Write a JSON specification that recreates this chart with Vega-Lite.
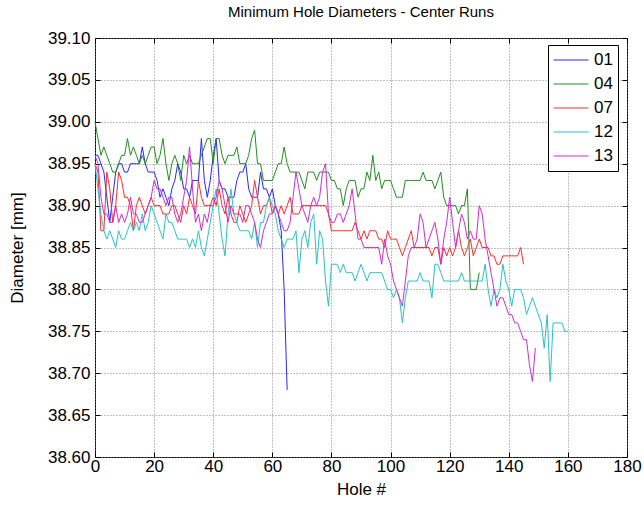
{
  "$schema": "https://vega.github.io/schema/vega-lite/v6.json",
  "width": 532,
  "height": 419,
  "autosize": {"type": "none"},
  "padding": {"left": 95, "top": 38, "right": 17, "bottom": 48},
  "background": "white",
  "title": {"text": "Minimum Hole Diameters - Center Runs", "fontSize": 15, "font": "Liberation Sans", "fontWeight": "normal", "color": "black", "offset": 9, "anchor": "middle"},
  "config": {"view": {"stroke": "black", "strokeWidth": 1}, "font": "Liberation Sans"},
  "datasets": {
    "runs": [
      {"run":"01","hole":0,"dia":38.96},{"run":"01","hole":1,"dia":38.96},{"run":"01","hole":2,"dia":38.95},{"run":"01","hole":3,"dia":38.94},{"run":"01","hole":4,"dia":38.91},{"run":"01","hole":5,"dia":38.88},{"run":"01","hole":6,"dia":38.91},{"run":"01","hole":7,"dia":38.94},{"run":"01","hole":8,"dia":38.95},{"run":"01","hole":9,"dia":38.95},
      {"run":"01","hole":10,"dia":38.94},{"run":"01","hole":11,"dia":38.94},{"run":"01","hole":12,"dia":38.95},{"run":"01","hole":13,"dia":38.95},{"run":"01","hole":14,"dia":38.95},{"run":"01","hole":15,"dia":38.95},{"run":"01","hole":16,"dia":38.97},{"run":"01","hole":17,"dia":38.95},{"run":"01","hole":18,"dia":38.94},{"run":"01","hole":19,"dia":38.94},
      {"run":"01","hole":20,"dia":38.94},{"run":"01","hole":21,"dia":38.93},{"run":"01","hole":22,"dia":38.91},{"run":"01","hole":23,"dia":38.92},{"run":"01","hole":24,"dia":38.91},{"run":"01","hole":25,"dia":38.90},{"run":"01","hole":26,"dia":38.92},{"run":"01","hole":27,"dia":38.93},{"run":"01","hole":28,"dia":38.95},{"run":"01","hole":29,"dia":38.94},
      {"run":"01","hole":30,"dia":38.92},{"run":"01","hole":31,"dia":38.92},{"run":"01","hole":32,"dia":38.91},{"run":"01","hole":33,"dia":38.93},{"run":"01","hole":34,"dia":38.93},{"run":"01","hole":35,"dia":38.93},{"run":"01","hole":36,"dia":38.98},{"run":"01","hole":37,"dia":38.93},{"run":"01","hole":38,"dia":38.91},{"run":"01","hole":39,"dia":38.93},
      {"run":"01","hole":40,"dia":38.96},{"run":"01","hole":41,"dia":38.98},{"run":"01","hole":42,"dia":38.93},{"run":"01","hole":43,"dia":38.92},{"run":"01","hole":44,"dia":38.92},{"run":"01","hole":45,"dia":38.91},{"run":"01","hole":46,"dia":38.91},{"run":"01","hole":47,"dia":38.91},{"run":"01","hole":48,"dia":38.93},{"run":"01","hole":49,"dia":38.94},
      {"run":"01","hole":50,"dia":38.94},{"run":"01","hole":51,"dia":38.95},{"run":"01","hole":52,"dia":38.92},{"run":"01","hole":53,"dia":38.91},{"run":"01","hole":54,"dia":38.91},{"run":"01","hole":55,"dia":38.91},{"run":"01","hole":56,"dia":38.94},{"run":"01","hole":57,"dia":38.92},{"run":"01","hole":58,"dia":38.92},{"run":"01","hole":59,"dia":38.91},
      {"run":"01","hole":60,"dia":38.92},{"run":"01","hole":61,"dia":38.90},{"run":"01","hole":62,"dia":38.89},{"run":"01","hole":63,"dia":38.87},{"run":"01","hole":64,"dia":38.80},{"run":"01","hole":65,"dia":38.68},

      {"run":"04","hole":0,"dia":39.00},{"run":"04","hole":1,"dia":38.98},{"run":"04","hole":2,"dia":38.96},{"run":"04","hole":3,"dia":38.97},{"run":"04","hole":4,"dia":38.96},{"run":"04","hole":5,"dia":38.95},{"run":"04","hole":6,"dia":38.94},{"run":"04","hole":7,"dia":38.94},{"run":"04","hole":8,"dia":38.95},{"run":"04","hole":9,"dia":38.96},
      {"run":"04","hole":10,"dia":38.96},{"run":"04","hole":11,"dia":38.98},{"run":"04","hole":12,"dia":38.96},{"run":"04","hole":13,"dia":38.97},{"run":"04","hole":14,"dia":38.96},{"run":"04","hole":15,"dia":38.95},{"run":"04","hole":16,"dia":38.96},{"run":"04","hole":17,"dia":38.95},{"run":"04","hole":18,"dia":38.96},{"run":"04","hole":19,"dia":38.97},
      {"run":"04","hole":20,"dia":38.97},{"run":"04","hole":21,"dia":38.95},{"run":"04","hole":22,"dia":38.96},{"run":"04","hole":23,"dia":38.98},{"run":"04","hole":24,"dia":38.95},{"run":"04","hole":25,"dia":38.93},{"run":"04","hole":26,"dia":38.95},{"run":"04","hole":27,"dia":38.96},{"run":"04","hole":28,"dia":38.95},{"run":"04","hole":29,"dia":38.93},
      {"run":"04","hole":30,"dia":38.96},{"run":"04","hole":31,"dia":38.95},{"run":"04","hole":32,"dia":38.96},{"run":"04","hole":33,"dia":38.95},{"run":"04","hole":34,"dia":38.95},{"run":"04","hole":35,"dia":38.95},{"run":"04","hole":36,"dia":38.96},{"run":"04","hole":37,"dia":38.97},{"run":"04","hole":38,"dia":38.98},{"run":"04","hole":39,"dia":38.98},
      {"run":"04","hole":40,"dia":38.95},{"run":"04","hole":41,"dia":38.98},{"run":"04","hole":42,"dia":38.98},{"run":"04","hole":43,"dia":38.96},{"run":"04","hole":44,"dia":38.95},{"run":"04","hole":45,"dia":38.96},{"run":"04","hole":46,"dia":38.96},{"run":"04","hole":47,"dia":38.96},{"run":"04","hole":48,"dia":38.97},{"run":"04","hole":49,"dia":38.95},
      {"run":"04","hole":50,"dia":38.95},{"run":"04","hole":51,"dia":38.95},{"run":"04","hole":52,"dia":38.96},{"run":"04","hole":53,"dia":38.98},{"run":"04","hole":54,"dia":38.99},{"run":"04","hole":55,"dia":38.95},{"run":"04","hole":56,"dia":38.95},{"run":"04","hole":57,"dia":38.93},{"run":"04","hole":58,"dia":38.93},{"run":"04","hole":59,"dia":38.93},
      {"run":"04","hole":60,"dia":38.93},{"run":"04","hole":61,"dia":38.94},{"run":"04","hole":62,"dia":38.95},{"run":"04","hole":63,"dia":38.95},{"run":"04","hole":64,"dia":38.97},{"run":"04","hole":65,"dia":38.95},{"run":"04","hole":66,"dia":38.94},{"run":"04","hole":67,"dia":38.94},{"run":"04","hole":68,"dia":38.94},{"run":"04","hole":69,"dia":38.94},
      {"run":"04","hole":70,"dia":38.93},{"run":"04","hole":71,"dia":38.92},{"run":"04","hole":72,"dia":38.94},{"run":"04","hole":73,"dia":38.94},{"run":"04","hole":74,"dia":38.94},{"run":"04","hole":75,"dia":38.93},{"run":"04","hole":76,"dia":38.94},{"run":"04","hole":77,"dia":38.94},{"run":"04","hole":78,"dia":38.94},{"run":"04","hole":79,"dia":38.94},
      {"run":"04","hole":80,"dia":38.93},{"run":"04","hole":81,"dia":38.93},{"run":"04","hole":82,"dia":38.92},{"run":"04","hole":83,"dia":38.92},{"run":"04","hole":84,"dia":38.90},{"run":"04","hole":85,"dia":38.92},{"run":"04","hole":86,"dia":38.93},{"run":"04","hole":87,"dia":38.93},{"run":"04","hole":88,"dia":38.93},{"run":"04","hole":89,"dia":38.91},
      {"run":"04","hole":90,"dia":38.92},{"run":"04","hole":91,"dia":38.92},{"run":"04","hole":92,"dia":38.94},{"run":"04","hole":93,"dia":38.93},{"run":"04","hole":94,"dia":38.96},{"run":"04","hole":95,"dia":38.93},{"run":"04","hole":96,"dia":38.94},{"run":"04","hole":97,"dia":38.92},{"run":"04","hole":98,"dia":38.93},{"run":"04","hole":99,"dia":38.93},
      {"run":"04","hole":100,"dia":38.93},{"run":"04","hole":101,"dia":38.92},{"run":"04","hole":102,"dia":38.91},{"run":"04","hole":103,"dia":38.91},{"run":"04","hole":104,"dia":38.91},{"run":"04","hole":105,"dia":38.93},{"run":"04","hole":106,"dia":38.93},{"run":"04","hole":107,"dia":38.93},{"run":"04","hole":108,"dia":38.93},{"run":"04","hole":109,"dia":38.93},
      {"run":"04","hole":110,"dia":38.93},{"run":"04","hole":111,"dia":38.94},{"run":"04","hole":112,"dia":38.93},{"run":"04","hole":113,"dia":38.93},{"run":"04","hole":114,"dia":38.93},{"run":"04","hole":115,"dia":38.92},{"run":"04","hole":116,"dia":38.93},{"run":"04","hole":117,"dia":38.94},{"run":"04","hole":118,"dia":38.91},{"run":"04","hole":119,"dia":38.90},
      {"run":"04","hole":120,"dia":38.90},{"run":"04","hole":121,"dia":38.90},{"run":"04","hole":122,"dia":38.90},{"run":"04","hole":123,"dia":38.89},{"run":"04","hole":124,"dia":38.90},{"run":"04","hole":125,"dia":38.90},{"run":"04","hole":126,"dia":38.92},{"run":"04","hole":127,"dia":38.80},{"run":"04","hole":128,"dia":38.80},{"run":"04","hole":129,"dia":38.80},
      {"run":"04","hole":130,"dia":38.82},

      {"run":"07","hole":0,"dia":38.95},{"run":"07","hole":1,"dia":38.94},{"run":"07","hole":2,"dia":38.87},{"run":"07","hole":3,"dia":38.87},{"run":"07","hole":4,"dia":38.94},{"run":"07","hole":5,"dia":38.92},{"run":"07","hole":6,"dia":38.88},{"run":"07","hole":7,"dia":38.90},{"run":"07","hole":8,"dia":38.94},{"run":"07","hole":9,"dia":38.93},
      {"run":"07","hole":10,"dia":38.91},{"run":"07","hole":11,"dia":38.91},{"run":"07","hole":12,"dia":38.90},{"run":"07","hole":13,"dia":38.87},{"run":"07","hole":14,"dia":38.90},{"run":"07","hole":15,"dia":38.91},{"run":"07","hole":16,"dia":38.90},{"run":"07","hole":17,"dia":38.89},{"run":"07","hole":18,"dia":38.90},{"run":"07","hole":19,"dia":38.91},
      {"run":"07","hole":20,"dia":38.90},{"run":"07","hole":21,"dia":38.90},{"run":"07","hole":22,"dia":38.90},{"run":"07","hole":23,"dia":38.89},{"run":"07","hole":24,"dia":38.89},{"run":"07","hole":25,"dia":38.89},{"run":"07","hole":26,"dia":38.90},{"run":"07","hole":27,"dia":38.90},{"run":"07","hole":28,"dia":38.89},{"run":"07","hole":29,"dia":38.88},
      {"run":"07","hole":30,"dia":38.90},{"run":"07","hole":31,"dia":38.89},{"run":"07","hole":32,"dia":38.91},{"run":"07","hole":33,"dia":38.90},{"run":"07","hole":34,"dia":38.89},{"run":"07","hole":35,"dia":38.93},{"run":"07","hole":36,"dia":38.91},{"run":"07","hole":37,"dia":38.90},{"run":"07","hole":38,"dia":38.90},{"run":"07","hole":39,"dia":38.90},
      {"run":"07","hole":40,"dia":38.91},{"run":"07","hole":41,"dia":38.90},{"run":"07","hole":42,"dia":38.92},{"run":"07","hole":43,"dia":38.90},{"run":"07","hole":44,"dia":38.89},{"run":"07","hole":45,"dia":38.91},{"run":"07","hole":46,"dia":38.89},{"run":"07","hole":47,"dia":38.88},{"run":"07","hole":48,"dia":38.88},{"run":"07","hole":49,"dia":38.90},
      {"run":"07","hole":50,"dia":38.89},{"run":"07","hole":51,"dia":38.88},{"run":"07","hole":52,"dia":38.89},{"run":"07","hole":53,"dia":38.90},{"run":"07","hole":54,"dia":38.93},{"run":"07","hole":55,"dia":38.91},{"run":"07","hole":56,"dia":38.89},{"run":"07","hole":57,"dia":38.90},{"run":"07","hole":58,"dia":38.90},{"run":"07","hole":59,"dia":38.91},
      {"run":"07","hole":60,"dia":38.89},{"run":"07","hole":61,"dia":38.90},{"run":"07","hole":62,"dia":38.89},{"run":"07","hole":63,"dia":38.90},{"run":"07","hole":64,"dia":38.89},{"run":"07","hole":65,"dia":38.90},{"run":"07","hole":66,"dia":38.91},{"run":"07","hole":67,"dia":38.89},{"run":"07","hole":68,"dia":38.89},{"run":"07","hole":69,"dia":38.89},
      {"run":"07","hole":70,"dia":38.90},{"run":"07","hole":71,"dia":38.90},{"run":"07","hole":72,"dia":38.90},{"run":"07","hole":73,"dia":38.90},{"run":"07","hole":74,"dia":38.90},{"run":"07","hole":75,"dia":38.90},{"run":"07","hole":76,"dia":38.90},{"run":"07","hole":77,"dia":38.90},{"run":"07","hole":78,"dia":38.90},{"run":"07","hole":79,"dia":38.89},
      {"run":"07","hole":80,"dia":38.87},{"run":"07","hole":81,"dia":38.87},{"run":"07","hole":82,"dia":38.87},{"run":"07","hole":83,"dia":38.87},{"run":"07","hole":84,"dia":38.87},{"run":"07","hole":85,"dia":38.87},{"run":"07","hole":86,"dia":38.87},{"run":"07","hole":87,"dia":38.87},{"run":"07","hole":88,"dia":38.88},{"run":"07","hole":89,"dia":38.87},
      {"run":"07","hole":90,"dia":38.86},{"run":"07","hole":91,"dia":38.87},{"run":"07","hole":92,"dia":38.86},{"run":"07","hole":93,"dia":38.87},{"run":"07","hole":94,"dia":38.87},{"run":"07","hole":95,"dia":38.87},{"run":"07","hole":96,"dia":38.86},{"run":"07","hole":97,"dia":38.86},{"run":"07","hole":98,"dia":38.85},{"run":"07","hole":99,"dia":38.87},
      {"run":"07","hole":100,"dia":38.86},{"run":"07","hole":101,"dia":38.86},{"run":"07","hole":102,"dia":38.86},{"run":"07","hole":103,"dia":38.85},{"run":"07","hole":104,"dia":38.84},{"run":"07","hole":105,"dia":38.85},{"run":"07","hole":106,"dia":38.86},{"run":"07","hole":107,"dia":38.87},{"run":"07","hole":108,"dia":38.85},{"run":"07","hole":109,"dia":38.85},
      {"run":"07","hole":110,"dia":38.85},{"run":"07","hole":111,"dia":38.85},{"run":"07","hole":112,"dia":38.85},{"run":"07","hole":113,"dia":38.85},{"run":"07","hole":114,"dia":38.84},{"run":"07","hole":115,"dia":38.85},{"run":"07","hole":116,"dia":38.85},{"run":"07","hole":117,"dia":38.83},{"run":"07","hole":118,"dia":38.85},{"run":"07","hole":119,"dia":38.84},
      {"run":"07","hole":120,"dia":38.85},{"run":"07","hole":121,"dia":38.84},{"run":"07","hole":122,"dia":38.85},{"run":"07","hole":123,"dia":38.87},{"run":"07","hole":124,"dia":38.85},{"run":"07","hole":125,"dia":38.84},{"run":"07","hole":126,"dia":38.85},{"run":"07","hole":127,"dia":38.86},{"run":"07","hole":128,"dia":38.84},{"run":"07","hole":129,"dia":38.85},
      {"run":"07","hole":130,"dia":38.86},{"run":"07","hole":131,"dia":38.85},{"run":"07","hole":132,"dia":38.85},{"run":"07","hole":133,"dia":38.85},{"run":"07","hole":134,"dia":38.84},{"run":"07","hole":135,"dia":38.84},{"run":"07","hole":136,"dia":38.83},{"run":"07","hole":137,"dia":38.83},{"run":"07","hole":138,"dia":38.84},{"run":"07","hole":139,"dia":38.84},
      {"run":"07","hole":140,"dia":38.84},{"run":"07","hole":141,"dia":38.84},{"run":"07","hole":142,"dia":38.84},{"run":"07","hole":143,"dia":38.84},{"run":"07","hole":144,"dia":38.85},{"run":"07","hole":145,"dia":38.83},

      {"run":"12","hole":0,"dia":38.95},{"run":"12","hole":1,"dia":38.92},{"run":"12","hole":2,"dia":38.89},{"run":"12","hole":3,"dia":38.87},{"run":"12","hole":4,"dia":38.86},{"run":"12","hole":5,"dia":38.87},{"run":"12","hole":6,"dia":38.86},{"run":"12","hole":7,"dia":38.85},{"run":"12","hole":8,"dia":38.87},{"run":"12","hole":9,"dia":38.86},
      {"run":"12","hole":10,"dia":38.86},{"run":"12","hole":11,"dia":38.87},{"run":"12","hole":12,"dia":38.88},{"run":"12","hole":13,"dia":38.87},{"run":"12","hole":14,"dia":38.88},{"run":"12","hole":15,"dia":38.87},{"run":"12","hole":16,"dia":38.89},{"run":"12","hole":17,"dia":38.87},{"run":"12","hole":18,"dia":38.88},{"run":"12","hole":19,"dia":38.90},
      {"run":"12","hole":20,"dia":38.89},{"run":"12","hole":21,"dia":38.88},{"run":"12","hole":22,"dia":38.87},{"run":"12","hole":23,"dia":38.86},{"run":"12","hole":24,"dia":38.89},{"run":"12","hole":25,"dia":38.88},{"run":"12","hole":26,"dia":38.88},{"run":"12","hole":27,"dia":38.87},{"run":"12","hole":28,"dia":38.86},{"run":"12","hole":29,"dia":38.86},
      {"run":"12","hole":30,"dia":38.86},{"run":"12","hole":31,"dia":38.86},{"run":"12","hole":32,"dia":38.85},{"run":"12","hole":33,"dia":38.86},{"run":"12","hole":34,"dia":38.85},{"run":"12","hole":35,"dia":38.87},{"run":"12","hole":36,"dia":38.85},{"run":"12","hole":37,"dia":38.84},{"run":"12","hole":38,"dia":38.86},{"run":"12","hole":39,"dia":38.88},
      {"run":"12","hole":40,"dia":38.90},{"run":"12","hole":41,"dia":38.92},{"run":"12","hole":42,"dia":38.89},{"run":"12","hole":43,"dia":38.86},{"run":"12","hole":44,"dia":38.84},{"run":"12","hole":45,"dia":38.89},{"run":"12","hole":46,"dia":38.92},{"run":"12","hole":47,"dia":38.89},{"run":"12","hole":48,"dia":38.88},{"run":"12","hole":49,"dia":38.87},
      {"run":"12","hole":50,"dia":38.87},{"run":"12","hole":51,"dia":38.87},{"run":"12","hole":52,"dia":38.87},{"run":"12","hole":53,"dia":38.86},{"run":"12","hole":54,"dia":38.88},{"run":"12","hole":55,"dia":38.85},{"run":"12","hole":56,"dia":38.88},{"run":"12","hole":57,"dia":38.88},{"run":"12","hole":58,"dia":38.90},{"run":"12","hole":59,"dia":38.91},
      {"run":"12","hole":60,"dia":38.90},{"run":"12","hole":61,"dia":38.89},{"run":"12","hole":62,"dia":38.87},{"run":"12","hole":63,"dia":38.86},{"run":"12","hole":64,"dia":38.85},{"run":"12","hole":65,"dia":38.86},{"run":"12","hole":66,"dia":38.86},{"run":"12","hole":67,"dia":38.86},{"run":"12","hole":68,"dia":38.87},{"run":"12","hole":69,"dia":38.82},
      {"run":"12","hole":70,"dia":38.86},{"run":"12","hole":71,"dia":38.87},{"run":"12","hole":72,"dia":38.85},{"run":"12","hole":73,"dia":38.88},{"run":"12","hole":74,"dia":38.89},{"run":"12","hole":75,"dia":38.83},{"run":"12","hole":76,"dia":38.87},{"run":"12","hole":77,"dia":38.86},{"run":"12","hole":78,"dia":38.81},{"run":"12","hole":79,"dia":38.78},
      {"run":"12","hole":80,"dia":38.83},{"run":"12","hole":81,"dia":38.83},{"run":"12","hole":82,"dia":38.83},{"run":"12","hole":83,"dia":38.82},{"run":"12","hole":84,"dia":38.83},{"run":"12","hole":85,"dia":38.82},{"run":"12","hole":86,"dia":38.82},{"run":"12","hole":87,"dia":38.82},{"run":"12","hole":88,"dia":38.81},{"run":"12","hole":89,"dia":38.82},
      {"run":"12","hole":90,"dia":38.83},{"run":"12","hole":91,"dia":38.82},{"run":"12","hole":92,"dia":38.81},{"run":"12","hole":93,"dia":38.82},{"run":"12","hole":94,"dia":38.82},{"run":"12","hole":95,"dia":38.82},{"run":"12","hole":96,"dia":38.82},{"run":"12","hole":97,"dia":38.82},{"run":"12","hole":98,"dia":38.81},{"run":"12","hole":99,"dia":38.80},
      {"run":"12","hole":100,"dia":38.80},{"run":"12","hole":101,"dia":38.79},{"run":"12","hole":102,"dia":38.80},{"run":"12","hole":103,"dia":38.79},{"run":"12","hole":104,"dia":38.76},{"run":"12","hole":105,"dia":38.79},{"run":"12","hole":106,"dia":38.81},{"run":"12","hole":107,"dia":38.81},{"run":"12","hole":108,"dia":38.81},{"run":"12","hole":109,"dia":38.81},
      {"run":"12","hole":110,"dia":38.82},{"run":"12","hole":111,"dia":38.81},{"run":"12","hole":112,"dia":38.81},{"run":"12","hole":113,"dia":38.81},{"run":"12","hole":114,"dia":38.79},{"run":"12","hole":115,"dia":38.83},{"run":"12","hole":116,"dia":38.83},{"run":"12","hole":117,"dia":38.82},{"run":"12","hole":118,"dia":38.81},{"run":"12","hole":119,"dia":38.81},
      {"run":"12","hole":120,"dia":38.81},{"run":"12","hole":121,"dia":38.81},{"run":"12","hole":122,"dia":38.81},{"run":"12","hole":123,"dia":38.81},{"run":"12","hole":124,"dia":38.82},{"run":"12","hole":125,"dia":38.81},{"run":"12","hole":126,"dia":38.81},{"run":"12","hole":127,"dia":38.81},{"run":"12","hole":128,"dia":38.81},{"run":"12","hole":129,"dia":38.81},
      {"run":"12","hole":130,"dia":38.81},{"run":"12","hole":131,"dia":38.81},{"run":"12","hole":132,"dia":38.83},{"run":"12","hole":133,"dia":38.80},{"run":"12","hole":134,"dia":38.78},{"run":"12","hole":135,"dia":38.80},{"run":"12","hole":136,"dia":38.79},{"run":"12","hole":137,"dia":38.80},{"run":"12","hole":138,"dia":38.83},{"run":"12","hole":139,"dia":38.81},
      {"run":"12","hole":140,"dia":38.80},{"run":"12","hole":141,"dia":38.78},{"run":"12","hole":142,"dia":38.80},{"run":"12","hole":143,"dia":38.80},{"run":"12","hole":144,"dia":38.80},{"run":"12","hole":145,"dia":38.79},{"run":"12","hole":146,"dia":38.77},{"run":"12","hole":147,"dia":38.78},{"run":"12","hole":148,"dia":38.79},{"run":"12","hole":149,"dia":38.78},
      {"run":"12","hole":150,"dia":38.77},{"run":"12","hole":151,"dia":38.76},{"run":"12","hole":152,"dia":38.73},{"run":"12","hole":153,"dia":38.77},{"run":"12","hole":154,"dia":38.69},{"run":"12","hole":155,"dia":38.76},{"run":"12","hole":156,"dia":38.76},{"run":"12","hole":157,"dia":38.76},{"run":"12","hole":158,"dia":38.76},{"run":"12","hole":159,"dia":38.75},
      {"run":"12","hole":160,"dia":38.75},

      {"run":"13","hole":0,"dia":38.96},{"run":"13","hole":1,"dia":38.95},{"run":"13","hole":2,"dia":38.91},{"run":"13","hole":3,"dia":38.89},{"run":"13","hole":4,"dia":38.89},{"run":"13","hole":5,"dia":38.88},{"run":"13","hole":6,"dia":38.88},{"run":"13","hole":7,"dia":38.90},{"run":"13","hole":8,"dia":38.88},{"run":"13","hole":9,"dia":38.89},
      {"run":"13","hole":10,"dia":38.88},{"run":"13","hole":11,"dia":38.89},{"run":"13","hole":12,"dia":38.91},{"run":"13","hole":13,"dia":38.89},{"run":"13","hole":14,"dia":38.89},{"run":"13","hole":15,"dia":38.88},{"run":"13","hole":16,"dia":38.88},{"run":"13","hole":17,"dia":38.89},{"run":"13","hole":18,"dia":38.90},{"run":"13","hole":19,"dia":38.91},
      {"run":"13","hole":20,"dia":38.93},{"run":"13","hole":21,"dia":38.92},{"run":"13","hole":22,"dia":38.92},{"run":"13","hole":23,"dia":38.91},{"run":"13","hole":24,"dia":38.90},{"run":"13","hole":25,"dia":38.91},{"run":"13","hole":26,"dia":38.91},{"run":"13","hole":27,"dia":38.89},{"run":"13","hole":28,"dia":38.88},{"run":"13","hole":29,"dia":38.89},
      {"run":"13","hole":30,"dia":38.91},{"run":"13","hole":31,"dia":38.93},{"run":"13","hole":32,"dia":38.97},{"run":"13","hole":33,"dia":38.92},{"run":"13","hole":34,"dia":38.88},{"run":"13","hole":35,"dia":38.89},{"run":"13","hole":36,"dia":38.87},{"run":"13","hole":37,"dia":38.89},{"run":"13","hole":38,"dia":38.88},{"run":"13","hole":39,"dia":38.90},
      {"run":"13","hole":40,"dia":38.90},{"run":"13","hole":41,"dia":38.91},{"run":"13","hole":42,"dia":38.93},{"run":"13","hole":43,"dia":38.92},{"run":"13","hole":44,"dia":38.90},{"run":"13","hole":45,"dia":38.88},{"run":"13","hole":46,"dia":38.90},{"run":"13","hole":47,"dia":38.89},{"run":"13","hole":48,"dia":38.89},{"run":"13","hole":49,"dia":38.89},
      {"run":"13","hole":50,"dia":38.88},{"run":"13","hole":51,"dia":38.90},{"run":"13","hole":52,"dia":38.90},{"run":"13","hole":53,"dia":38.89},{"run":"13","hole":54,"dia":38.88},{"run":"13","hole":55,"dia":38.86},{"run":"13","hole":56,"dia":38.85},{"run":"13","hole":57,"dia":38.87},{"run":"13","hole":58,"dia":38.88},{"run":"13","hole":59,"dia":38.89},
      {"run":"13","hole":60,"dia":38.89},{"run":"13","hole":61,"dia":38.90},{"run":"13","hole":62,"dia":38.89},{"run":"13","hole":63,"dia":38.88},{"run":"13","hole":64,"dia":38.87},{"run":"13","hole":65,"dia":38.87},{"run":"13","hole":66,"dia":38.88},{"run":"13","hole":67,"dia":38.91},{"run":"13","hole":68,"dia":38.94},{"run":"13","hole":69,"dia":38.92},
      {"run":"13","hole":70,"dia":38.90},{"run":"13","hole":71,"dia":38.89},{"run":"13","hole":72,"dia":38.88},{"run":"13","hole":73,"dia":38.90},{"run":"13","hole":74,"dia":38.91},{"run":"13","hole":75,"dia":38.90},{"run":"13","hole":76,"dia":38.91},{"run":"13","hole":77,"dia":38.94},{"run":"13","hole":78,"dia":38.95},{"run":"13","hole":79,"dia":38.89},
      {"run":"13","hole":80,"dia":38.88},{"run":"13","hole":81,"dia":38.88},{"run":"13","hole":82,"dia":38.89},{"run":"13","hole":83,"dia":38.89},{"run":"13","hole":84,"dia":38.88},{"run":"13","hole":85,"dia":38.89},{"run":"13","hole":86,"dia":38.90},{"run":"13","hole":87,"dia":38.92},{"run":"13","hole":88,"dia":38.89},{"run":"13","hole":89,"dia":38.86},
      {"run":"13","hole":90,"dia":38.86},{"run":"13","hole":91,"dia":38.85},{"run":"13","hole":92,"dia":38.85},{"run":"13","hole":93,"dia":38.85},{"run":"13","hole":94,"dia":38.85},{"run":"13","hole":95,"dia":38.85},{"run":"13","hole":96,"dia":38.85},{"run":"13","hole":97,"dia":38.83},{"run":"13","hole":98,"dia":38.86},{"run":"13","hole":99,"dia":38.84},
      {"run":"13","hole":100,"dia":38.83},{"run":"13","hole":101,"dia":38.81},{"run":"13","hole":102,"dia":38.80},{"run":"13","hole":103,"dia":38.79},{"run":"13","hole":104,"dia":38.78},{"run":"13","hole":105,"dia":38.81},{"run":"13","hole":106,"dia":38.84},{"run":"13","hole":107,"dia":38.85},{"run":"13","hole":108,"dia":38.85},{"run":"13","hole":109,"dia":38.86},
      {"run":"13","hole":110,"dia":38.89},{"run":"13","hole":111,"dia":38.88},{"run":"13","hole":112,"dia":38.85},{"run":"13","hole":113,"dia":38.86},{"run":"13","hole":114,"dia":38.87},{"run":"13","hole":115,"dia":38.88},{"run":"13","hole":116,"dia":38.86},{"run":"13","hole":117,"dia":38.83},{"run":"13","hole":118,"dia":38.86},{"run":"13","hole":119,"dia":38.88},
      {"run":"13","hole":120,"dia":38.91},{"run":"13","hole":121,"dia":38.88},{"run":"13","hole":122,"dia":38.85},{"run":"13","hole":123,"dia":38.87},{"run":"13","hole":124,"dia":38.89},{"run":"13","hole":125,"dia":38.88},{"run":"13","hole":126,"dia":38.86},{"run":"13","hole":127,"dia":38.87},{"run":"13","hole":128,"dia":38.86},{"run":"13","hole":129,"dia":38.86},
      {"run":"13","hole":130,"dia":38.90},{"run":"13","hole":131,"dia":38.89},{"run":"13","hole":132,"dia":38.86},{"run":"13","hole":133,"dia":38.84},{"run":"13","hole":134,"dia":38.82},{"run":"13","hole":135,"dia":38.80},{"run":"13","hole":136,"dia":38.78},{"run":"13","hole":137,"dia":38.79},{"run":"13","hole":138,"dia":38.79},{"run":"13","hole":139,"dia":38.78},
      {"run":"13","hole":140,"dia":38.77},{"run":"13","hole":141,"dia":38.77},{"run":"13","hole":142,"dia":38.76},{"run":"13","hole":143,"dia":38.76},{"run":"13","hole":144,"dia":38.75},{"run":"13","hole":145,"dia":38.74},{"run":"13","hole":146,"dia":38.74},{"run":"13","hole":147,"dia":38.71},{"run":"13","hole":148,"dia":38.69},{"run":"13","hole":149,"dia":38.73}
    ]
  },
  "data": {"name": "runs"},
  "layer": [
    {
      "mark": {"type": "line", "strokeWidth": 1, "interpolate": "linear"},
      "encoding": {
        "x": {
          "field": "hole", "type": "quantitative",
          "scale": {"domain": [0, 180], "nice": false, "zero": false},
          "axis": {
            "orient": "bottom", "values": [0, 20, 40, 60, 80, 100, 120, 140, 160, 180],
            "title": "Hole #", "titleFontSize": 17, "titleFontWeight": "normal", "titleColor": "black", "titlePadding": 7,
            "labelFontSize": 17, "labelColor": "black", "labelPadding": 6, "labelFlush": false,
            "tickSize": -5, "tickColor": "black", "domain": false,
            "grid": true, "gridColor": "#808080", "gridDash": [1, 2], "gridOpacity": 1
          }
        },
        "y": {
          "field": "dia", "type": "quantitative",
          "scale": {"domain": [38.6, 39.1], "nice": false, "zero": false},
          "axis": {
            "orient": "left", "values": [38.6, 38.65, 38.7, 38.75, 38.8, 38.85, 38.9, 38.95, 39.0, 39.05, 39.1],
            "format": ".2f",
            "title": "Diameter [mm]", "titleFontSize": 17, "titleFontWeight": "normal", "titleColor": "black", "titlePadding": 21,
            "labelFontSize": 17, "labelColor": "black", "labelPadding": 10, "labelFlush": false,
            "tickSize": -5, "tickColor": "black", "domain": false,
            "grid": true, "gridColor": "#808080", "gridDash": [1, 2], "gridOpacity": 1
          }
        },
        "color": {
          "field": "run", "type": "nominal",
          "scale": {"domain": ["01", "04", "07", "12", "13"], "range": ["#2626ff", "#1f8f1f", "#ff2b2b", "#26c4c4", "#d22bd2"]},
          "legend": {
            "orient": "none", "legendX": 453, "legendY": 7, "title": null,
            "strokeColor": "black", "fillColor": "white", "padding": 5,
            "labelFontSize": 17, "labelColor": "black", "labelOffset": 5,
            "symbolType": "stroke", "symbolSize": 1225, "symbolStrokeWidth": 1,
            "clipHeight": 20, "rowPadding": 4
          }
        }
      }
    },
    {
      "mark": {"type": "line", "opacity": 0},
      "encoding": {
        "x": {
          "field": "hole", "type": "quantitative",
          "scale": {"domain": [0, 180], "nice": false, "zero": false},
          "axis": {"orient": "top", "values": [0, 20, 40, 60, 80, 100, 120, 140, 160, 180], "labels": false, "title": null, "tickSize": -5, "tickColor": "black", "domain": false, "grid": false}
        },
        "y": {
          "field": "dia", "type": "quantitative",
          "scale": {"domain": [38.6, 39.1], "nice": false, "zero": false},
          "axis": {"orient": "right", "values": [38.6, 38.65, 38.7, 38.75, 38.8, 38.85, 38.9, 38.95, 39.0, 39.05, 39.1], "labels": false, "title": null, "tickSize": -5, "tickColor": "black", "domain": false, "grid": false}
        }
      }
    }
  ],
  "resolve": {"axis": {"x": "independent", "y": "independent"}}
}
